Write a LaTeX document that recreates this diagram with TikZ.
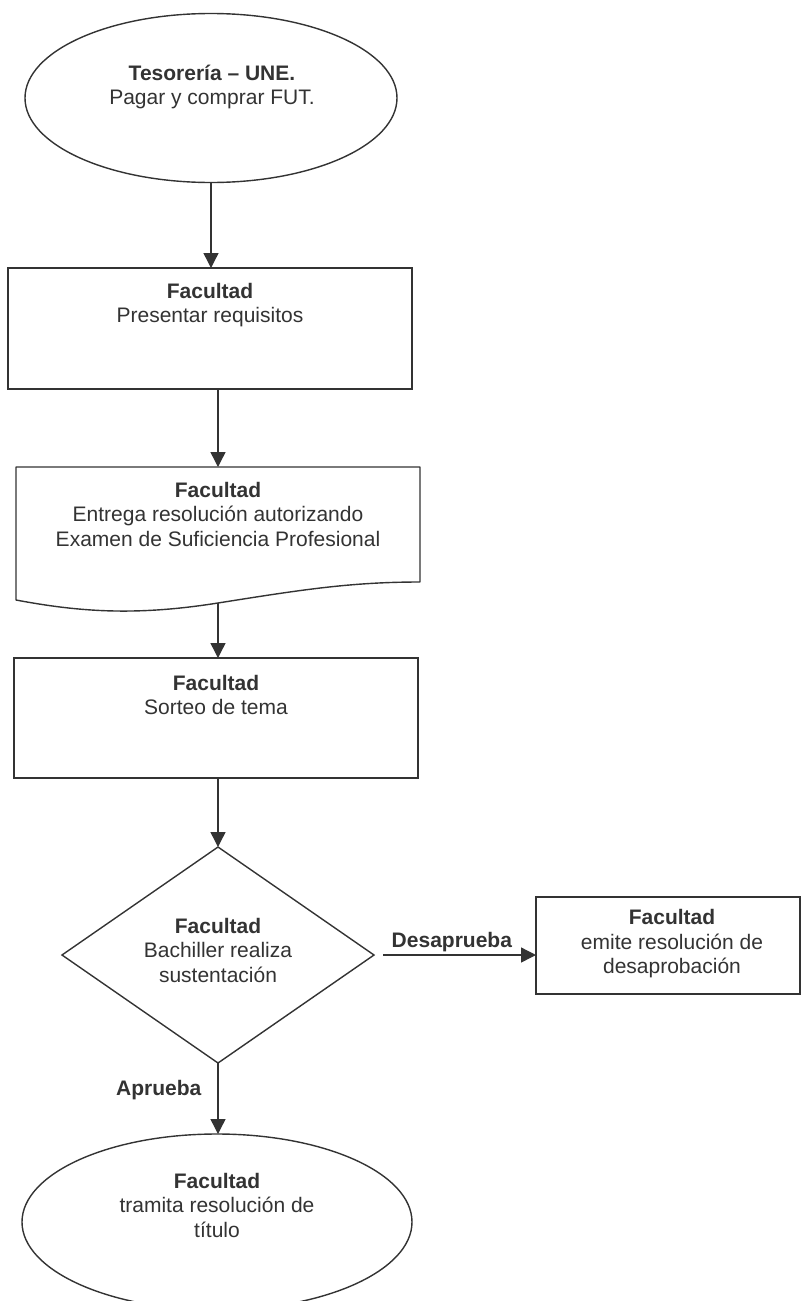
\documentclass[tikz,border=0pt]{standalone}
\usepackage{fontspec}
\setmainfont{Liberation Sans}
\usetikzlibrary{shapes.geometric,arrows.meta}
\definecolor{ink}{HTML}{333333}
\begin{document}
\begin{tikzpicture}[x=1pt,y=-1pt,
  shape line/.style={draw=ink,line width=1.4pt,inner sep=0pt,outer sep=0pt},
  rectbox/.style={shape line,rectangle},
  ovalbox/.style={shape line,ellipse},
  decision/.style={shape line,diamond},
  txt/.style={text=ink,align=center,inner sep=0pt,font=\fontsize{21}{24.5}\selectfont},
  flow/.style={draw=ink,line width=1.4pt,-{Triangle[width=15pt,length=15pt]}},
  edgelabel/.style={text=ink,font=\fontsize{21}{24.5}\selectfont\bfseries,inner sep=2pt}]
  % page area
  \fill[white] (0,0) rectangle (801,1301);
  \useasboundingbox (0,0) rectangle (801,1301);
  \clip (0,0) rectangle (801,1301);

  % start: treasury
  \node[ovalbox,minimum width=372pt,minimum height=169pt] (e1) at (211,98) {};
  \node[txt] (t1) at (212,87) {\textbf{Tesorería – UNE.}\\Pagar y comprar FUT.};

  % requirements
  \node[rectbox,minimum width=404pt,minimum height=121pt] (b1) at (210,328.5) {};
  \node[txt] (t2) at (210,305) {\textbf{Facultad}\\Presentar requisitos};

  % resolution document (wavy bottom)
  \node[inner sep=0pt,outer sep=0pt,minimum width=404pt,minimum height=136pt] (doc) at (218,535) {};
  \draw[draw=ink,line width=1.4pt,line join=round]
    (16,467) -- (420,467) -- (420,582)
    .. controls (350,582) and (300,590) .. (218,603)
    .. controls (136,616) and (80,612) .. (16,600) -- cycle;
  \node[txt] (t3) at (218,514) {\textbf{Facultad}\\Entrega resolución autorizando\\Examen de Suficiencia Profesional};

  % topic draw
  \node[rectbox,minimum width=404pt,minimum height=120pt] (b3) at (216,718) {};
  \node[txt] (t4) at (216,695) {\textbf{Facultad}\\Sorteo de tema};

  % decision
  \node[decision,minimum width=312pt,minimum height=216pt] (d) at (218,955) {};
  \node[txt] (t5) at (218,950) {\textbf{Facultad}\\Bachiller realiza\\sustentación};

  % failure outcome
  \node[rectbox,minimum width=264pt,minimum height=97pt] (rb) at (668,945.5) {};
  \node[txt] (t6) at (672,944) {\textbf{Facultad}\\emite resolución de\\desaprobación};

  % end: degree resolution
  \node[ovalbox,minimum width=390pt,minimum height=176pt] (e2) at (217,1222) {};
  \node[txt] (t7) at (217,1205) {\textbf{Facultad}\\tramita resolución de\\título};

  % connectors
  \draw[flow] (e1.south) -- (e1.south |- b1.north);
  \draw[flow] (b1.south -| doc.north) -- (doc.north);
  \draw[flow] (doc.south) -- (doc.south |- b3.north);
  \draw[flow] (b3.south -| d.north) -- (d.north);
  \draw[flow] ([xshift=9pt]d.east) -- (d.east -| rb.west)
    node[edgelabel,pos=0.45,above] {Desaprueba};
  \draw[flow] (d.south) -- (d.south |- e2.north)
    node[edgelabel,pos=0.38,left=14pt] {Aprueba};
\end{tikzpicture}
\end{document}
